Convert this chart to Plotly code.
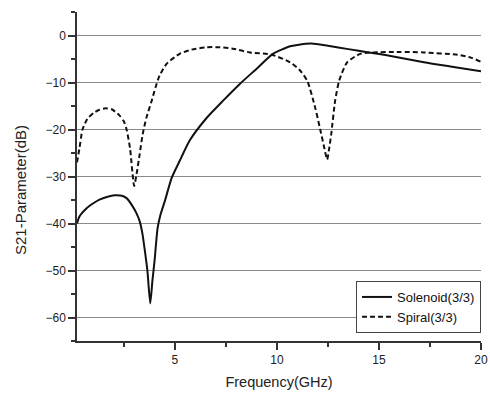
import plotly.graph_objects as go

# Solenoid(3/3) series
sol_freq = [0.2, 0.32, 0.66, 1.0, 1.3, 1.7, 2.04, 2.4, 2.63, 2.92, 3.1, 3.27, 3.4, 3.51, 3.65,
            3.79, 3.9, 4.0, 4.15, 4.3, 4.5, 4.84, 5.23, 5.73, 6.56, 7.35, 8.18, 9.02, 9.8,
            10.64, 11.0, 11.7, 12.5, 13.5, 14.5, 15.5, 17.2, 18.5, 20]
sol_s21 = [-40, -38.5, -36.8, -35.7, -34.9, -34.3, -34.0, -34.1, -34.6, -36.3, -37.7, -39.5,
           -42, -45.3, -50, -57, -52, -48, -41, -38, -35.3, -30.3, -26.7, -22.3, -17.5, -13.9,
           -10.3, -7, -3.9, -2.3, -2.0, -1.7, -2.2, -2.9, -3.6, -4.3, -5.7, -6.6, -7.6]

# Spiral(3/3) series
spi_freq = [0.2, 0.32, 0.47, 0.7, 1.0, 1.3, 1.6, 1.9, 2.28, 2.5, 2.63, 2.8, 3.0, 3.1, 3.27,
            3.42, 3.6, 3.86, 4.05, 4.25, 4.6, 5.23, 5.82, 6.56, 7.2, 7.84, 8.67, 9.76, 10.64,
            11.1, 11.48, 11.87, 12.12, 12.3, 12.46, 12.56, 12.66, 12.85, 13.05, 13.44, 14.08,
            14.7, 16.0, 17.2, 18.85, 19.5, 20]
spi_s21 = [-27, -24, -20, -17.8, -16.5, -15.8, -15.5, -15.7, -17, -18.3, -20, -24, -32, -30,
           -25.3, -21, -17.5, -13.9, -11, -8.5, -6, -3.9, -3, -2.5, -2.5, -2.8, -3.6, -4.1,
           -5.7, -7.3, -9.6, -15.3, -20, -23.5, -26.4, -24, -21, -13.9, -9.6, -5.7, -3.9,
           -3.6, -3.5, -3.6, -4.1, -4.7, -5.6]

x_ticks = [5, 10, 15, 20]
y_ticks = [0, -10, -20, -30, -40, -50, -60]

FONT = "Liberation Sans, Arial, sans-serif"

fig = go.Figure()
fig.add_trace(go.Scatter(x=sol_freq, y=sol_s21, mode="lines", name="Solenoid(3/3)",
                         line=dict(color="#111111", width=2, shape="spline", smoothing=0.6)))
fig.add_trace(go.Scatter(x=spi_freq, y=spi_s21, mode="lines", name="Spiral(3/3)",
                         line=dict(color="#111111", width=2, dash="5px,3px", shape="spline",
                                   smoothing=0.6)))

fig.update_layout(
    width=490, height=394,
    autosize=False,
    margin=dict(l=77, r=9, t=12, b=53, autoexpand=False),
    paper_bgcolor="white", plot_bgcolor="white",
    font=dict(family=FONT, color="#222222", size=12),
    showlegend=True,
    legend=dict(x=1.0, y=(341 - 333) / 329, xanchor="right", yanchor="bottom",
                bgcolor="white", bordercolor="#444444", borderwidth=1,
                font=dict(family=FONT, size=13, color="#111111"),
                tracegroupgap=0, itemwidth=30),
    xaxis=dict(range=[0.2, 20], tickvals=x_ticks, ticks="outside", ticklen=7, tickwidth=1.5,
               tickcolor="#333333", showline=True, linecolor="#333333", linewidth=1.5,
               showgrid=False, zeroline=False, automargin=False,
               minor=dict(dtick=2.5, tick0=0, ticks="outside", ticklen=4, tickcolor="#333333"),
               title=dict(text="Frequency(GHz)", font=dict(size=14.5, family=FONT), standoff=11)),
    yaxis=dict(range=[-65, 5], tickvals=y_ticks, ticks="outside", ticklen=7, tickwidth=1.5,
               tickcolor="#333333", showline=True, linecolor="#333333", linewidth=1.5,
               showgrid=True, gridcolor="#8a8a8a", gridwidth=1, zeroline=False,
               automargin=False,
               minor=dict(dtick=5, tick0=0, ticks="outside", ticklen=4, tickcolor="#333333",
                          showgrid=False)),
    annotations=[dict(text="S21-Parameter(dB)", textangle=-90,
                      x=(20 - 77) / 404, y=(341 - 190) / 329,
                      xref="paper", yref="paper", showarrow=False,
                      xanchor="center", yanchor="middle",
                      font=dict(size=15, family=FONT, color="#222222"))],
)

fig.write_html("out.html", config={"displayModeBar": False},
               post_script="document.body.style.margin='0';document.body.style.overflow='hidden';")
